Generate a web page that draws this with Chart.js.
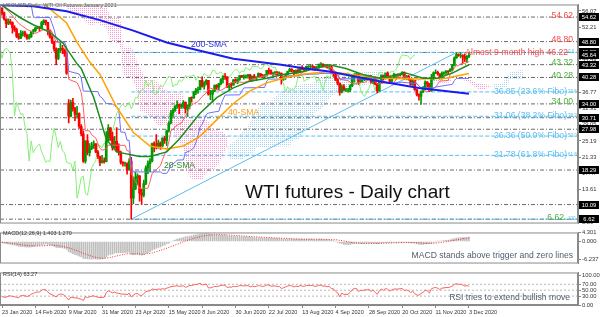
<!DOCTYPE html>
<html>
<head>
<meta charset="utf-8">
<title>WTI futures - Daily chart</title>
<script src="https://cdn.jsdelivr.net/npm/chart.js@4.4.1/dist/chart.umd.min.js"></script>
<style>
  html, body { margin: 0; padding: 0; background: #fff; }
  #wrap { position: relative; width: 600px; height: 317px; overflow: hidden; background: #fff; }
  #wrap canvas { position: absolute; left: 0; }
</style>
</head>
<body>
<div id="wrap">
  <canvas id="main" width="600" height="228" style="top:0"></canvas>
  <canvas id="macd" width="600" height="40" style="top:228px"></canvas>
  <canvas id="rsi" width="600" height="49" style="top:268px"></canvas>
</div>
<script>
// ---- dates (one bar per trading day, tick every 16 bars)
const dateLabels = ['23 Jan 2020','14 Feb 2020','9 Mar 2020','31 Mar 2020','23 Apr 2020','15 May 2020',
  '8 Jun 2020','30 Jun 2020','22 Jul 2020','13 Aug 2020','4 Sep 2020','28 Sep 2020','20 Oct 2020',
  '11 Nov 2020','3 Dec 2020'];
const dateIdx = [0,16,32,48,64,80,96,112,128,144,160,176,192,208,224];

// ---- daily candles
const open = [56.7,55.6,54.2,53.1,53.5,53.3,52.1,51.6,50.1,49.6,
50.8,50.9,50.3,49.6,49.9,51.2,51.4,52.0,52.1,52.0,
53.3,53.8,53.4,51.4,49.9,48.7,47.1,44.8,46.8,47.2,
46.8,45.9,34.2,31.1,34.4,32.9,31.5,31.7,28.7,26.9,
20.4,25.2,22.4,23.4,24.0,24.5,22.6,21.5,20.1,20.5,
20.3,25.3,28.3,26.1,23.6,25.1,22.8,22.4,20.1,19.9,
19.9,18.3,20.4,11.6,13.8,16.5,16.9,12.8,12.3,15.1,
18.8,19.8,20.4,24.6,24.0,23.6,24.7,24.1,25.8,25.3,
27.6,29.4,31.8,32.5,33.5,33.9,33.3,33.6,34.4,32.8,
33.7,35.5,35.4,36.8,37.3,37.4,39.6,38.2,38.9,39.6,
36.3,36.3,37.1,38.4,38.0,38.8,39.8,40.5,40.4,38.0,
38.7,38.5,39.7,39.3,39.8,40.7,40.4,40.6,40.6,40.9,
39.6,40.6,40.1,40.3,41.2,40.8,40.6,40.8,42.0,41.9,
41.1,41.3,41.6,41.0,41.3,39.9,40.3,41.0,41.7,42.2,
42.0,41.2,41.9,41.6,42.7,42.2,42.0,42.9,42.9,42.9,
42.8,42.3,42.6,43.4,43.4,43.0,43.0,42.6,42.8,41.5,
41.4,39.8,38.9,36.8,38.1,37.3,37.3,37.3,38.3,40.2,
41.0,41.1,39.3,39.8,39.9,40.3,40.3,40.6,39.3,40.2,
38.7,37.1,39.2,40.7,40.0,41.2,40.6,39.4,40.2,41.0,
41.0,40.9,41.1,41.5,40.0,40.6,39.9,38.6,39.6,37.4,
36.2,35.8,36.8,37.7,39.2,38.8,37.1,40.3,41.4,41.5,
41.1,40.1,41.3,41.4,41.8,41.7,42.2,43.1,44.9,45.7,
45.5,45.5,45.3,44.6,45.3];
const high = [56.9,55.8,54.0,54.2,54.1,53.5,52.6,52.0,50.7,51.4,
51.3,51.3,50.6,50.5,51.3,51.7,52.2,52.5,52.4,53.6,
54.0,53.9,52.2,51.6,50.2,48.9,47.3,47.2,48.6,47.9,
47.0,46.3,35.0,34.9,35.3,33.2,33.4,31.9,29.1,27.6,
25.2,26.7,24.6,24.9,25.2,24.6,22.9,21.6,21.8,21.2,
27.4,29.1,28.4,27.3,26.3,28.4,24.5,22.8,20.3,20.2,
20.0,21.0,21.3,16.7,17.8,17.4,17.0,13.7,15.9,19.3,
20.5,21.0,24.7,25.0,26.7,25.4,25.0,26.0,26.3,27.8,
29.8,32.5,32.9,33.6,34.7,34.0,33.9,34.8,34.5,33.8,
35.5,35.7,37.0,37.7,38.0,39.6,40.4,39.3,39.8,39.6,
37.2,37.3,38.5,38.6,38.9,40.0,40.7,41.2,40.4,38.9,
39.0,39.8,40.0,40.0,40.8,40.8,40.9,40.9,41.0,41.0,
40.6,41.0,40.5,41.4,41.2,41.0,41.0,42.0,42.5,42.1,
41.5,41.7,41.6,41.6,41.3,40.5,41.2,41.8,42.5,42.4,
42.0,42.1,42.4,42.8,43.1,42.4,43.0,43.1,43.4,43.2,
42.9,42.9,43.5,43.8,43.6,43.3,43.3,43.1,42.9,41.9,
41.6,40.0,39.0,38.5,38.6,37.7,37.7,38.6,40.4,41.2,
41.4,41.1,40.0,40.4,40.5,40.6,40.8,40.7,40.3,40.4,
38.9,39.4,40.9,40.8,41.4,41.6,40.6,40.3,41.3,41.1,
41.2,41.3,41.7,41.6,40.8,40.8,39.9,39.8,39.6,37.5,
36.4,37.1,38.1,39.5,39.3,38.9,41.0,41.6,42.1,41.8,
41.2,41.6,41.6,41.9,41.9,42.4,43.4,45.2,46.2,45.9,
46.0,45.7,45.9,45.5,46.2];
const low = [55.1,53.9,52.1,52.8,52.9,50.8,51.2,49.7,49.3,49.5,
50.1,49.9,49.3,49.4,49.8,50.6,51.1,51.8,51.2,51.9,
52.8,52.7,50.4,49.6,48.3,46.5,43.3,44.5,46.3,45.9,
45.3,41.0,29.5,30.9,32.3,30.0,30.6,28.2,26.4,20.1,
19.9,21.9,21.6,23.1,23.4,22.4,21.0,19.3,19.9,19.9,
20.2,25.1,25.3,23.0,23.5,22.6,21.8,19.7,19.2,19.2,
17.3,19.5,6.6,10.3,13.6,14.8,10.9,10.1,11.9,14.8,
17.4,17.9,20.2,22.6,23.3,23.4,23.2,23.8,24.6,24.1,
27.3,29.3,31.0,32.2,32.9,31.7,32.9,33.0,31.8,31.1,
32.8,34.4,35.3,36.2,36.5,37.3,38.0,37.5,38.5,36.1,
35.0,34.4,36.9,37.4,37.3,38.5,39.0,39.8,37.9,37.3,
37.8,38.4,39.0,38.8,39.6,40.2,39.9,40.1,40.1,39.3,
39.4,39.9,39.5,40.2,40.4,40.3,40.1,40.6,41.2,41.0,
40.6,40.9,40.9,40.9,38.7,39.6,39.8,40.8,41.6,41.6,
40.8,41.1,41.3,41.4,42.1,41.6,41.8,42.5,42.4,42.0,
41.9,42.1,42.4,43.0,42.7,42.7,42.5,42.2,41.2,40.5,
39.5,38.5,36.1,36.6,37.2,36.9,36.8,36.9,38.1,39.2,
40.6,38.6,39.0,39.3,39.5,39.7,39.9,38.9,38.8,38.5,
36.6,37.0,39.0,39.7,39.9,40.4,39.2,39.1,40.0,39.9,
40.5,40.6,40.8,39.9,39.8,39.7,38.4,38.4,37.2,35.9,
34.9,33.9,36.7,37.4,38.0,36.9,37.0,39.7,41.2,40.8,
39.9,39.9,40.9,41.0,41.0,41.6,41.9,43.0,44.8,45.3,
44.9,43.8,44.0,43.8,45.0];
const close = [55.6,54.2,53.1,53.5,53.3,52.1,51.6,50.1,49.6,50.8,
50.9,50.3,49.6,49.9,51.2,51.4,52.0,52.1,52.0,53.3,
53.8,53.4,51.4,49.9,48.7,47.1,44.8,46.8,47.2,46.8,
45.9,41.3,31.1,34.4,32.9,31.5,31.7,28.7,26.9,20.4,
25.2,22.4,23.4,24.0,24.5,22.6,21.5,20.1,20.5,20.3,
25.3,28.3,26.1,23.6,25.1,22.8,22.4,20.1,19.9,19.9,
18.3,20.4,11.6,13.8,16.5,16.9,12.8,12.3,15.1,18.8,
19.8,20.4,24.6,24.0,23.6,24.7,24.1,25.8,25.3,27.6,
29.4,31.8,32.5,33.5,33.9,33.3,33.6,34.4,32.8,33.7,
35.5,35.4,36.8,37.3,37.4,39.6,38.2,38.9,39.6,36.3,
36.3,37.1,38.4,38.0,38.8,39.8,40.5,40.4,38.0,38.7,
38.5,39.7,39.3,39.8,40.7,40.4,40.6,40.6,40.9,39.6,
40.6,40.1,40.3,41.2,40.8,40.6,40.8,42.0,41.9,41.1,
41.3,41.6,41.0,41.3,39.9,40.3,41.0,41.7,42.2,42.0,
41.2,41.9,41.6,42.7,42.2,42.0,42.9,42.9,42.9,42.8,
42.3,42.6,43.4,43.4,43.0,43.0,42.6,42.8,41.5,41.4,
39.8,38.9,36.8,38.1,37.3,37.3,37.3,38.3,40.2,41.0,
41.1,39.3,39.8,39.9,40.3,40.3,40.6,39.3,40.2,38.7,
37.1,39.2,40.7,40.0,41.2,40.6,39.4,40.2,41.0,41.0,
40.9,41.1,41.5,40.0,40.6,39.9,38.6,39.6,37.4,36.2,
35.8,36.8,37.7,39.2,38.8,37.1,40.3,41.4,41.5,41.1,
40.1,41.3,41.4,41.8,41.7,42.2,43.1,44.9,45.7,45.5,
45.5,45.3,44.6,45.3,45.6];

// ---- moving averages (read at bar index)
const sma200Idx = [-1,15,31,47,63,79,92,111,134,143,157,181,200,224];
const sma200 = [57.5,57.2,56.0,53.9,51.4,48.6,47.0,44.7,43.3,42.6,41.7,39.4,37.8,36.4];
const sma40Idx = [10,20,31,36,42,47,55,63,71,79,87,95,103,111,119,127,135,143,157,181,200,213,224];
const sma40 = [60.5,57.8,53.2,48.6,44.0,41.0,33.2,27.2,24.0,23.3,24.0,26.3,30.2,34.1,37.1,39.0,40.1,41.0,41.7,40.1,39.9,40.1,41.2];
const sma20Idx = [0,9,15,23,29,36,38,44,50,55,66,71,79,85,95,103,111,119,127,135,143,157,165,173,181,194,202,209,216,224];
const sma20 = [57.4,54.4,52.8,51.0,48.6,43.5,42.4,35.5,25.6,22.6,21.5,21.5,22.6,25.6,31.8,35.5,37.8,39.4,40.1,41.0,41.5,43.3,42.4,41.0,40.1,41.3,40.1,40.1,41.3,43.3];

// ---- Ichimoku
const tenkanIdx = [0,4,8,12,16,20,24,26,29,30,31,32,36,37,38,39,40,42,43,45,46,47,48,50,51,55,59,60,61,62,64,66,70,71,72,74,76,77,78,79,80,81,82,84,86,88,89,90,92,94,96,98,99,100,102,105,107,110,112,116,118,120,122,124,128,130,132,134,142,144,146,148,150,152,154,156,158,160,162,164,166,168,170,172,174,176,178,180,184,188,190,194,196,198,199,200,201,202,204,206,208,210,214,215,216,217,218,219,220,222,224];
const tenkan = [57.4,55.55,53.1,51.7,50.75,51.65,51.15,48.65,48.6,47.75,46.3,39.85,39.05,38.05,36.7,33.2,27.6,27.6,26.65,25.9,24.5,23.45,23.0,23.35,24.2,24.2,24.15,22.85,22.85,17.5,15.55,13.95,13.95,15.55,17.4,18.4,19.3,20.75,22.05,22.85,25.0,27.55,28.05,28.95,29.4,31.05,32.05,33.25,34.05,34.55,35.75,36.6,37.4,37.7,37.4,37.2,37.8,39.05,39.25,39.1,39.4,39.9,40.15,40.35,40.95,41.0,41.3,40.6,40.6,41.45,41.95,42.1,42.35,42.55,42.8,42.85,42.5,41.65,39.85,39.7,39.5,38.85,38.75,39.1,39.1,39.75,40.0,38.7,39.0,39.1,40.3,40.4,40.05,39.45,38.8,38.3,37.75,37.35,36.9,37.45,38.0,39.4,39.55,41.05,41.65,42.55,43.05,43.05,43.55,43.6,44.05];
const kijunIdx = [0,4,8,14,15,16,17,23,24,25,26,27,30,31,32,37,38,39,46,47,48,49,50,53,54,55,56,57,59,60,61,62,63,76,77,79,80,81,82,83,84,87,88,90,92,93,94,95,96,97,98,99,102,104,105,106,107,114,115,116,126,127,128,134,135,136,137,143,144,148,152,153,159,160,161,162,178,179,180,182,183,184,185,187,188,190,192,199,200,201,207,208,216,217,218,224];
const kijun = [60.4,58.9,57.5,57.5,54.75,54.45,54.5,54.5,53.1,51.7,49.55,48.75,48.65,47.5,41.75,41.1,40.2,37.05,36.9,35.75,35.45,34.75,34.1,33.95,33.6,33.15,32.8,27.3,27.25,25.35,25.35,19.25,17.85,17.85,17.5,17.5,18.2,19.55,19.75,20.1,20.65,20.7,22.45,22.8,23.55,24.8,26.4,28.5,29.15,30.3,31.5,31.8,32.1,32.25,33.85,35.0,36.1,36.15,37.0,37.8,37.9,39.45,39.9,39.9,40.15,40.45,40.6,40.75,40.9,41.05,41.1,41.25,41.25,41.65,41.15,39.95,39.95,39.85,39.7,39.6,39.5,39.0,38.85,38.85,39.0,39.1,39.15,38.8,38.3,37.8,37.8,38.0,38.65,39.55,40.05,40.05];
const cloudIdx = [26,30,34,38,42,46,50,52,54,56,57,58,62,64,65,66,69,72,74,76,78,80,82,83,86,87,88,90,92,96,98,100,102,104,106,108,109,110,112,114,116,118,120,122,124,126,130,132,134,138,140,142,146,147,150,154,158,160,162,166,168,170,174,178,180,182,186,188,192,196,200,204,206,210,214,216,220,224,226,228,230,232,234,236,240,242,244,246,250];
const spanA = [58.9,57.2,55.3,54.6,52.6,53.1,52.1,49.1,48.7,48.2,46.9,40.8,40.1,38.45,35.1,32.3,31.8,30.7,29.2,28.7,29.1,28.9,28.65,25.85,24.1,24.1,18.4,16.7,15.9,15.9,17.6,18.1,18.6,19.8,21.6,23.9,24.3,24.8,25.05,26.75,28.0,28.8,30.5,32.45,34.05,34.75,34.8,36.3,37.0,37.7,38.0,38.45,38.85,38.9,39.1,40.4,40.6,40.55,40.5,40.6,40.9,41.2,41.6,41.8,41.9,42.05,41.65,39.9,39.7,39.35,39.5,39.95,39.2,39.0,39.05,39.7,39.8,39.2,38.3,37.6,37.35,37.6,38.0,38.8,39.0,40.15,41.55,41.8,42.05];
const spanB = [60.3,58.2,57.5,57.5,57.5,57.5,57.5,54.5,54.5,54.5,53.3,47.6,47.6,46.0,42.9,42.8,39.8,39.8,39.5,38.6,37.55,36.75,36.7,36.7,36.7,35.65,30.3,30.3,30.3,30.3,30.25,29.1,27.75,27.6,27.25,26.45,20.95,20.95,20.65,20.7,21.05,21.8,22.3,23.5,23.55,23.6,23.65,23.9,23.9,23.9,25.65,25.65,28.0,29.3,32.0,33.15,35.9,36.8,36.8,36.8,38.45,38.45,38.45,38.95,40.55,40.55,40.55,39.95,39.95,39.95,39.95,39.95,39.95,39.95,39.95,39.95,39.95,39.95,39.35,38.85,38.85,38.6,38.5,38.0,38.0,38.0,40.05,40.05,40.05];

// ---- horizontal levels, fibonacci, trendline
const levels = [54.62,48.80,46.22,43.32,40.28,34.00,30.71,27.98,18.29,10.09,6.62];
const fibLevels = [46.22,36.85,31.06,26.36,21.78,6.62];
const fibPct = ['0.0','23.6','38.2','50.0','61.8','100.0'];
const fibStart = 62;
const trendIdx = [62,218];
const trendVal = [6.62,46.22];
const noteVals = [54.62,48.80,46.22,43.32,40.28,34.00,6.62];
const noteText = ['54.62','48.80','Almost 9-month high 46.22','43.32','40.28','34.00','6.62'];
const priceTicks = [56.07,52.21,48.35,44.49,40.63,36.77,32.91,29.05,25.19,21.33,17.47,13.61,9.75,5.89];
const priceBoxes = [54.62,48.80,46.22,45.64,43.32,40.28,34.00,30.71,27.98,18.29,10.09,6.62];

// ---- MACD(12,26,9)
const macd = [-0.4,-0.6,-0.8,-0.9,-1.0,-1.2,-1.3,-1.5,-1.7,-1.8,
-1.8,-1.9,-2.0,-2.0,-1.9,-1.8,-1.6,-1.5,-1.4,-1.2,
-1.0,-0.9,-1.0,-1.2,-1.4,-1.7,-2.1,-2.2,-2.2,-2.3,
-2.4,-2.8,-3.6,-3.9,-4.3,-4.6,-4.8,-5.1,-5.4,-5.9,
-6.0,-6.1,-6.2,-6.2,-6.1,-6.2,-6.2,-6.2,-6.1,-5.9,
-5.4,-4.8,-4.5,-4.4,-4.1,-4.0,-3.9,-3.9,-3.9,-3.8,
-3.8,-3.7,-4.5,-4.7,-4.6,-4.5,-4.7,-4.8,-4.6,-4.2,
-3.9,-3.6,-3.0,-2.7,-2.4,-2.1,-1.9,-1.6,-1.3,-0.9,
-0.6,-0.2,0.2,0.5,0.8,1.0,1.2,1.4,1.6,1.7,
1.9,2.0,2.2,2.3,2.4,2.6,2.7,2.7,2.8,2.7,
2.5,2.4,2.3,2.3,2.2,2.2,2.2,2.2,2.0,1.9,
1.9,1.8,1.8,1.7,1.7,1.6,1.6,1.6,1.5,1.5,
1.4,1.4,1.3,1.3,1.3,1.2,1.2,1.2,1.2,1.2,
1.1,1.1,1.1,1.0,0.9,0.8,0.8,0.8,0.8,0.8,
0.8,0.8,0.8,0.8,0.8,0.8,0.8,0.8,0.8,0.8,
0.7,0.7,0.8,0.8,0.7,0.7,0.6,0.6,0.4,0.3,
0.0,-0.3,-0.6,-0.8,-1.0,-1.1,-1.1,-1.0,-0.9,-0.8,
-0.7,-0.7,-0.7,-0.7,-0.6,-0.6,-0.6,-0.6,-0.6,-0.7,
-0.8,-0.7,-0.6,-0.5,-0.4,-0.4,-0.4,-0.4,-0.3,-0.3,
-0.3,-0.3,-0.3,-0.3,-0.4,-0.4,-0.5,-0.5,-0.6,-0.8,
-1.0,-1.0,-1.0,-0.9,-0.8,-0.8,-0.5,-0.3,-0.1,0.1,
0.1,0.2,0.3,0.4,0.5,0.6,0.8,1.0,1.2,1.3,
1.4,1.4,1.4,1.4,1.403];
const signalStep = 4;
const signal = [-0.3,-0.6,-1.0,-1.4,-1.6,-1.5,-1.3,-1.6,-2.2,-3.2,-4.4,-5.4,-5.9,-5.6,-4.9,-4.3,-4.3,-4.5,-4.0,-3.1,
-2.1,-1.0,0.2,1.1,1.8,2.3,2.4,2.3,2.1,1.9,1.7,1.5,1.4,1.2,1.1,0.9,0.8,0.8,0.8,0.7,
0.6,0.2,-0.4,-0.7,-0.7,-0.7,-0.6,-0.5,-0.4,-0.4,-0.5,-0.7,-0.6,-0.2,0.3,0.8,1.27];
const macdTickLabels = ['4.301','0.000','-6.237'];
const macdTickVals = [3.14,0,-6.237];

// ---- RSI(14)
const rsi = [28,27,26,30,31,29,28,26,25,31,
32,31,29,31,37,39,43,44,44,50,
53,51,44,38,35,31,27,35,37,36,
33,25,17,27,25,24,24,21,20,15,
28,25,28,30,31,28,27,25,26,26,
42,48,45,41,44,40,40,37,37,37,
35,40,27,33,38,39,33,32,38,45,
47,48,54,53,52,54,53,55,54,57,
59,62,63,64,65,63,64,65,60,62,
66,66,68,70,70,74,68,69,71,58,
58,60,63,62,64,66,67,67,59,61,
60,63,62,63,66,65,65,65,66,61,
64,62,63,66,64,63,64,68,67,64,
64,65,62,63,56,58,61,64,66,65,
61,64,62,66,64,63,66,66,66,66,
63,64,67,67,64,64,62,63,55,55,
46,41,28,40,36,36,36,43,52,56,
56,46,49,49,51,51,53,46,51,43,
36,48,54,50,56,53,47,51,54,54,
54,55,56,48,51,48,42,47,38,34,
33,39,43,50,48,41,55,58,59,57,
52,57,58,59,59,61,64,70,72,70,
70,68,64,66,63.27];
const rsiLevels = [70,50,30];
const rsiTicks = [100,70,50,30,0];

// ---------------------------------------------------------------
const FONT = '"Liberation Sans", Arial, sans-serif';
Chart.defaults.font.family = FONT;
Chart.defaults.animation = false;
Chart.defaults.events = [];

const XMIN = -0.96, XMAX = 276.3;
const BULL = '#009a00', BEAR = '#ff0000';
const RED = '#ff4646', GREEN = '#4caf3c', FIB = 'rgb(90,190,240)';

const pts = (xs, ys) => xs.map((x, i) => ({x: x, y: ys[i]}));

function dotPattern(color) {
  const c = document.createElement('canvas');
  c.width = 2; c.height = 2;
  const g = c.getContext('2d');
  g.fillStyle = color;
  g.fillRect(0, 0, 1, 1);
  return g.createPattern(c, 'repeat');
}

function line(data, color, width, order, extra) {
  return Object.assign({type: 'line', data: data, borderColor: color, borderWidth: width,
    pointRadius: 0, fill: false, tension: 0, order: order}, extra || {});
}

function rightAxis(min, max, ticks, fmt) {
  return {
    type: 'linear', position: 'right', min: min, max: max,
    afterBuildTicks: s => { s.ticks = ticks.map(v => ({value: v})); },
    afterFit: s => { s.width = 22; },
    ticks: {callback: fmt, font: {size: 5.8}, color: '#333', padding: 1, autoSkip: false},
    grid: {drawOnChartArea: false, tickLength: 3, color: '#888'},
    border: {color: '#888'}
  };
}

function text(ctx, s, x, y, size, color, align, base) {
  ctx.font = size + 'px ' + FONT;
  ctx.fillStyle = color;
  ctx.textAlign = align || 'left';
  ctx.textBaseline = base || 'alphabetic';
  ctx.fillText(s, x, y);
}

const frame = {
  id: 'frame',
  afterDraw(chart) {
    const a = chart.chartArea, ctx = chart.ctx;
    ctx.save();
    ctx.strokeStyle = '#8a8a8a';
    ctx.lineWidth = 1;
    ctx.strokeRect(a.left + 0.5, a.top + 0.5, a.right - a.left - 1, a.bottom - a.top - 1);
    ctx.restore();
  }
};

// ---------------- main price chart
const mainDs = [];
mainDs.push(line(pts(cloudIdx, spanB), 'rgba(0,0,0,0)', 0, 100,
  {fill: {target: 1, above: dotPattern('rgb(255,150,210)'), below: dotPattern('rgb(165,212,245)')}}));
mainDs.push(line(pts(cloudIdx, spanA), 'rgba(0,0,0,0)', 0, 101));
levels.forEach(v => mainDs.push(line([{x: XMIN, y: v}, {x: XMAX, y: v}], '#6a6a6a', 1, 90, {borderDash: [4, 2, 1, 2]})));
fibLevels.forEach(v => mainDs.push(line([{x: fibStart, y: v}, {x: XMAX, y: v}], FIB, 1, 88, {borderDash: [4, 2]})));
mainDs.push(line(pts(trendIdx, trendVal), FIB, 1, 87));
mainDs.push(line(close.map((c, i) => ({x: i - 26, y: c})), 'rgb(135,238,120)', 1, 80));
mainDs.push({type: 'bar', order: 70, grouped: false, barThickness: 1,
  data: close.map((c, i) => ({x: i, y: [low[i], high[i]], up: c >= open[i]})),
  backgroundColor: ctx => (ctx.raw && ctx.raw.up) ? BULL : BEAR});
mainDs.push({type: 'bar', order: 69, grouped: false, barThickness: 2,
  data: close.map((c, i) => ({x: i, y: [open[i], c], up: c >= open[i]})),
  backgroundColor: ctx => (ctx.raw && ctx.raw.up) ? BULL : BEAR});
mainDs.push(line(pts(tenkanIdx, tenkan), 'rgb(255,95,95)', 1, 60));
mainDs.push(line(pts(kijunIdx, kijun), 'rgb(110,110,255)', 1, 59));
mainDs.push(line(pts(sma40Idx, sma40), '#ffa200', 1.5, 50));
mainDs.push(line(pts(sma20Idx, sma20), '#1d8c1d', 1.5, 49));
mainDs.push(line(pts(sma200Idx, sma200), '#1c1cf0', 2, 48));

const mainDecor = {
  id: 'mainDecor',
  afterDatasetsDraw(chart) {
    const ctx = chart.ctx, y = chart.scales.y;
    ctx.save();
    text(ctx, 'USOUSD,Daily  WTI Oil Futures January 2021', 3, 7, 5.5, '#555');
    noteVals.forEach((v, i) => {
      const col = i < 3 ? RED : GREEN;
      let xr = 573, dy = 0.5;
      if (v === 46.22) { xr = 568; dy = 2.5; }
      if (v === 6.62) { xr = 564; dy = 1; }
      text(ctx, noteText[i], xr, y.getPixelForValue(v) + dy, 8.6, col, 'right');
    });
    fibLevels.forEach((v, i) => {
      const py = y.getPixelForValue(v);
      if (i > 0 && i < 5) {
        text(ctx, v.toFixed(2) + ' (' + fibPct[i] + '% Fibo)', 567, py - 0.5, 8.6, FIB, 'right', 'middle');
      }
      text(ctx, fibPct[i], 568, py - 0.5, 4.5, FIB, 'left', 'middle');
    });
    text(ctx, '200-SMA', 191, 47, 8.6, '#2a2ae0');
    text(ctx, '40-SMA', 228, 115, 8.6, '#f5a020');
    text(ctx, '20-SMA', 164, 168, 8.6, '#2e8b2e');
    text(ctx, 'WTI futures - Daily chart', 245, 198, 19, '#111');
    ctx.restore();
  },
  afterDraw(chart) {
    const ctx = chart.ctx, y = chart.scales.y;
    ctx.save();
    priceBoxes.forEach(v => {
      const py = Math.round(y.getPixelForValue(v));
      ctx.fillStyle = '#000';
      ctx.fillRect(579, py - 4, 20, 8);
      text(ctx, v.toFixed(2), 589, py + 0.5, 5.8, '#fff', 'center', 'middle');
    });
    ctx.restore();
  }
};

new Chart(document.getElementById('main'), {
  type: 'bar',
  data: {datasets: mainDs},
  options: {
    responsive: false,
    layout: {padding: {top: 1, bottom: 1, left: 0, right: 0}},
    plugins: {legend: {display: false}, tooltip: {enabled: false}},
    scales: {
      x: {type: 'linear', min: XMIN, max: XMAX, display: false, offset: false},
      y: rightAxis(5.59, 57.61, priceTicks, v => v.toFixed(2))
    }
  },
  plugins: [mainDecor, frame]
});

// ---------------- MACD
new Chart(document.getElementById('macd'), {
  type: 'bar',
  data: {datasets: [
    line(signal.map((v, i) => ({x: i * signalStep, y: v})), 'rgb(235,45,45)', 1, 1, {borderDash: [1, 1.5]}),
    {type: 'bar', order: 2, grouped: false, barThickness: 1, backgroundColor: 'rgb(190,190,190)',
      data: macd.map((v, i) => ({x: i, y: v}))}
  ]},
  options: {
    responsive: false,
    layout: {padding: {top: 1, bottom: 1, left: 0, right: 0}},
    plugins: {legend: {display: false}, tooltip: {enabled: false}},
    scales: {
      x: {type: 'linear', min: XMIN, max: XMAX, display: false, offset: false},
      y: rightAxis(-7.71, 3.14, macdTickVals, (v, i) => macdTickLabels[i])
    }
  },
  plugins: [frame, {
    id: 'macdText',
    afterDraw(chart) {
      const ctx = chart.ctx;
      ctx.save();
      text(ctx, 'MACD(12,26,9) 1.403 1.270', 3, 7, 5.5, '#333');
      text(ctx, 'MACD stands above trigger and zero lines', 573, 29.5, 8.6, '#4e5d6c', 'right');
      ctx.restore();
    }
  }]
});

// ---------------- RSI
const rsiDs = [line(rsi.map((v, i) => ({x: i, y: v})), 'rgb(250,95,95)', 1, 1)];
rsiLevels.forEach(v => rsiDs.push(line([{x: XMIN, y: v}, {x: XMAX, y: v}], 'rgb(185,185,185)', 1, 5, {borderDash: [2, 2]})));

new Chart(document.getElementById('rsi'), {
  type: 'line',
  data: {datasets: rsiDs},
  options: {
    responsive: false,
    layout: {padding: {top: 1, bottom: 0, left: 0, right: 0}},
    plugins: {legend: {display: false}, tooltip: {enabled: false}},
    scales: {
      x: {
        type: 'linear', min: XMIN, max: XMAX, offset: false,
        afterBuildTicks: s => { s.ticks = dateIdx.map(v => ({value: v})); },
        afterFit: s => { s.height = 12; },
        ticks: {callback: (v, i) => dateLabels[i], align: 'start', font: {size: 5.5}, color: '#333',
          padding: 1, maxRotation: 0, autoSkip: false},
        grid: {drawOnChartArea: false, tickLength: 3, color: '#888'},
        border: {color: '#888'}
      },
      y: rightAxis(0, 110, rsiTicks, v => v.toFixed(2))
    }
  },
  plugins: [frame, {
    id: 'rsiText',
    afterDraw(chart) {
      const ctx = chart.ctx;
      ctx.save();
      text(ctx, 'RSI(14) 63.27', 3, 7.5, 5.5, '#333');
      text(ctx, 'RSI tries to extend bullish move', 570, 31.5, 8.6, '#4e5d6c', 'right');
      ctx.restore();
    }
  }]
});
</script>
</body>
</html>
